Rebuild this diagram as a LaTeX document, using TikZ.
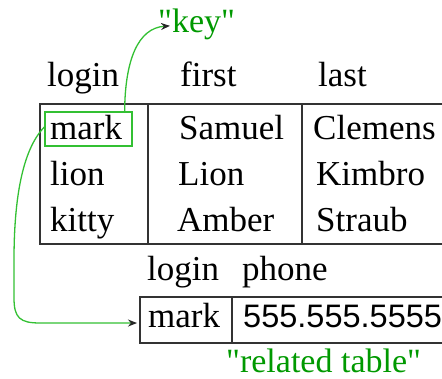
\documentclass[tikz,border=0pt]{standalone}
\usepackage{fontspec}
\setmainfont{Liberation Serif}
\newfontfamily\numfont{Liberation Sans}
\usetikzlibrary{arrows.meta}
\definecolor{keygreen}{HTML}{009900}
\definecolor{linegreen}{HTML}{33C033}
\definecolor{tabline}{HTML}{333333}
\begin{document}
\begin{tikzpicture}[x=1pt,y=-1pt,
  txt/.style={anchor=base west,inner sep=0pt,font=\fontsize{35}{40}\selectfont},
  gtxt/.style={anchor=base west,inner sep=0pt,font=\fontsize{34}{40}\selectfont,text=keygreen},
  tab/.style={draw=tabline,line width=1.6pt},
  link/.style={draw=linegreen,line width=1.3pt,-{Stealth[length=9pt,width=7pt,fill=black!85,color=black!85]}}]
\useasboundingbox (0,0) rectangle (442,379);
\clip (0,0) rectangle (442,379);
% main table
\draw[tab] (460,104) -- (40,104) -- (40,244) -- (460,244);
\draw[tab] (148,104) -- (148,244);
\draw[tab] (302,104) -- (302,244);
% headers
\node[txt] (h1) at (47,87) {login};
\node[txt] (h2) at (180,87) {first};
\node[txt] (h3) at (318,87) {last};
% rows
\node[txt] (a1) at (50,140) {mark};
\node[txt] (a2) at (50,186) {lion};
\node[txt] (a3) at (50,232) {kitty};
\node[txt] (b1) at (179,140) {Samuel};
\node[txt] (b2) at (178,186) {Lion};
\node[txt] (b3) at (177,232) {Amber};
\node[txt] (c1) at (313,140) {Clemens};
\node[txt] (c2) at (316,186) {Kimbro};
\node[txt] (c3) at (316,232) {Straub};
% key box
\node[draw=linegreen,line width=1.3pt,minimum width=87pt,minimum height=34pt,inner sep=0pt] (markbox) at (88.5,129) {};
% related table
\draw[tab] (460,297) -- (140,297) -- (140,343) -- (460,343);
\draw[tab] (232,297) -- (232,343);
\node[txt] (r1) at (147,281) {login};
\node[txt] (r2) at (242,281) {phone};
\node[txt] (m2) at (148,328) {mark};
\node[txt,font=\numfont\fontsize{32.5}{40}\selectfont] (p2) at (243,328) {555.555.5555};
% labels
\node[gtxt] (key) at (158,33) {\textquotedbl key\textquotedbl};
\node[gtxt] (rel) at (226,373) {\textquotedbl related table\textquotedbl};
% connectors
\coordinate (k0) at ([xshift=-8pt]markbox.north east);
\coordinate (k1) at ([xshift=12pt,yshift=-1pt]key.west);
\coordinate (t2) at ([xshift=-11pt,yshift=-7pt]m2.west);
\draw[link] (k0) .. controls (125,60) and (138,28) .. (k1);
\draw[link] ([yshift=2pt]markbox.west) .. controls (22,150) and (14,200) .. (14,260) -- (14,298) .. controls (14,318) and (20,323) .. (40,323) -- (t2);
\end{tikzpicture}
\end{document}
